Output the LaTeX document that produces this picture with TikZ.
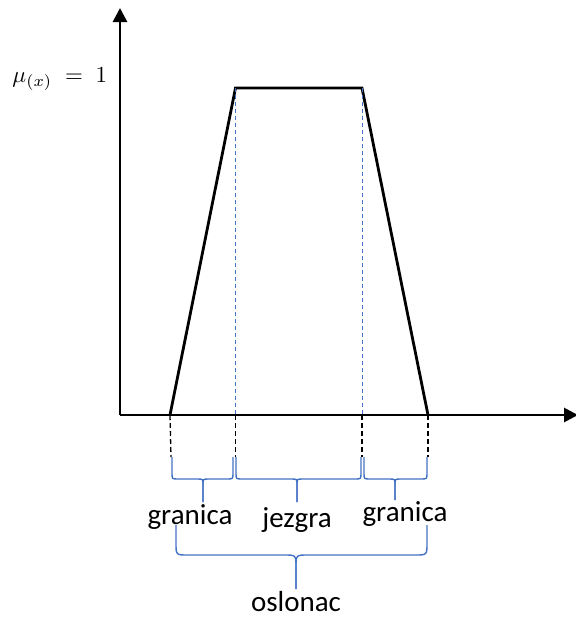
\documentclass[tikz,border=0pt]{standalone}
\usepackage{fontspec}
\setmainfont{Carlito}
\usetikzlibrary{arrows.meta}
\definecolor{obl}{RGB}{68,114,196}
\begin{document}
\begin{tikzpicture}[x=1pt,y=-1pt,
  axis/.style={line width=2.8pt,-{Triangle[width=14pt,length=14pt]}},
  trap/.style={line width=2.8pt,line join=miter},
  guide/.style={obl,line width=1pt,dash pattern=on 4pt off 3pt},
  drop/.style={black,line width=1.3pt,dash pattern=on 5pt off 3pt},
  bracepath/.style={obl,line width=1.4pt},
  lbl/.style={font=\fontsize{29}{32}\selectfont,inner sep=0pt}]
\useasboundingbox (0,0) rectangle (576,619);
% axes
\coordinate (O) at (120,415);
\coordinate (ytip) at (120,8);
\coordinate (xtip) at (578,415);
\draw[axis] (O) -- (ytip);
\draw[axis] (O) -- (xtip);
% trapezoid
\coordinate (a) at (170,415);
\coordinate (b) at (235.5,88);
\coordinate (c) at (362,88);
\coordinate (d) at (428,415);
\coordinate (bb) at (235.5,415);
\coordinate (cc) at (362,415);
\draw[trap] (a) -- (b) -- (c) -- (d);
\draw[guide] (b) -- (bb);
\draw[guide] (c) -- (cc);
% drops
\coordinate (a2) at (171,457);
\coordinate (b2) at (235.5,457);
\coordinate (c2) at (362,457);
\coordinate (d2) at (428,457);
\draw[drop] (a) -- (a2);
\draw[drop] (bb) -- (b2);
\draw[drop] (cc) -- (c2);
\draw[drop] (d) -- (d2);
% label mu
\node[scale=2.3,anchor=base west,inner sep=0pt] (mu) at (12,82) {$\mu_{(x)}\;=\;1$};
% small braces
\def\brc#1#2#3#4#5#6{%
 \draw[bracepath] (#1,#4) -- (#1,#5-6) .. controls (#1,#5) .. (#1+6,#5) -- (#2-6,#5) .. controls (#2,#5) .. (#2,#5+5) -- (#2,#6);
 \draw[bracepath] (#3,#4) -- (#3,#5-6) .. controls (#3,#5) .. (#3-6,#5) -- (#2+6,#5) .. controls (#2,#5) .. (#2,#5+5) -- (#2,#6);}
\brc{172}{203}{233}{457}{479}{502}
\brc{236}{297}{361}{457}{479}{502}
\brc{364}{395}{427}{457}{479}{500}
% big brace
\draw[bracepath] (176,525) -- (176,543) .. controls (176,555) .. (188,555) -- (284,555) .. controls (296,555) .. (296,567) -- (296,589);
\draw[bracepath] (427,525) -- (427,543) .. controls (427,555) .. (415,555) -- (308,555) .. controls (296,555) .. (296,567) -- (296,589);
% labels
\node[lbl] (g1) at (190,517) {granica};
\node[lbl] (jz) at (297,520) {jezgra};
\node[lbl] (g2) at (405,514) {granica};
\node[lbl] (os) at (296,602) {oslonac};
\end{tikzpicture}
\end{document}
